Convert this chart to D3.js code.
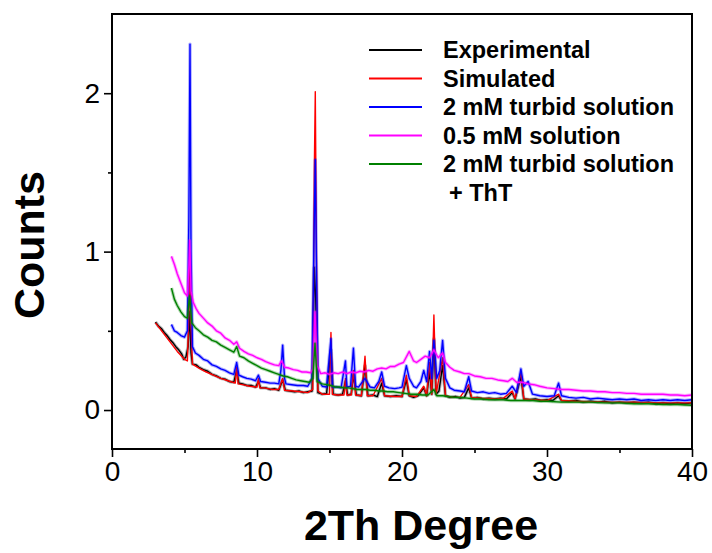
<!DOCTYPE html>
<html><head><meta charset="utf-8">
<script src="https://cdn.jsdelivr.net/npm/d3@7/dist/d3.min.js"></script>
<style>body{margin:0;background:#fff}svg{display:block}text{font-family:"Liberation Sans",Arial,sans-serif}</style>
</head><body><svg id="c" width="712" height="553"></svg>
<script>
const seriesNames = ["Experimental","Simulated","2 mM turbid solution","0.5 mM solution","2 mM turbid solution"];
const seriesColors = ["#000000","#ff0000","#0000ff","#ff00ff","#008000"];
const xTicks = [0,10,20,30,40];
const yTicks = [0,1,2];

const experimental = [[3.0,.555],[3.2,.53],[3.4,.515],[3.6,.49],[3.8,.47],[4.0,.445],[4.2,.425],[4.4,.4],[4.6,.38],[4.8,.355],[4.95,.32],[5.1,.335],[5.25,.4],[5.35,.62],[5.45,.36],[5.55,.29],[5.8,.285],[6.0,.27],[6.3,.255],[6.6,.245],[6.9,.225],[7.2,.215],[7.5,.2],[7.8,.195],[8.1,.18],[8.4,.175],[8.6,.25],[8.75,.17],[9.0,.165],[9.3,.155],[9.6,.155],[9.9,.145],[10.1,.18],[10.25,.14],[10.6,.14],[10.9,.13],[11.2,.135],[11.5,.125],[11.77,.19],[11.95,.125],[12.3,.12],[12.6,.115],[12.9,.12],[13.2,.11],[13.5,.115],[13.8,.12],[13.95,.9],[14.05,.7],[14.2,.11],[14.5,.1],[14.8,.105],[15.1,.38],[15.25,.1],[15.6,.095],[15.9,.1],[16.1,.18],[16.25,.095],[16.5,.1],[16.65,.22],[16.85,.095],[17.2,.09],[17.45,.28],[17.65,.09],[18.0,.095],[18.3,.085],[18.6,.17],[18.8,.09],[19.2,.085],[19.6,.09],[20.0,.085],[20.3,.19],[20.5,.09],[20.8,.08],[21.1,.09],[21.5,.14],[21.7,.09],[21.9,.24],[22.05,.1],[22.2,.45],[22.35,.1],[22.55,.12],[22.8,.28],[23.0,.09],[23.3,.08],[23.7,.085],[24.0,.075],[24.3,.08],[24.6,.14],[24.8,.075],[25.2,.08],[25.6,.07],[26.0,.075],[26.4,.07],[26.8,.075],[27.2,.07],[27.6,.11],[27.8,.07],[28.2,.21],[28.4,.07],[28.8,.065],[29.2,.07],[29.6,.06],[30.0,.065],[30.4,.06],[30.8,.09],[31.0,.06],[31.5,.055],[32.0,.06],[32.5,.05],[33.0,.055],[33.5,.05],[34.0,.055],[34.5,.045],[35.0,.05],[35.5,.045],[36.0,.05],[36.5,.045],[37.0,.05],[37.5,.04],[38.0,.045],[38.5,.04],[39.0,.045],[39.5,.04],[40.0,.045]];

const simulated = [[3.0,.55],[3.5,.49],[4.0,.43],[4.5,.37],[5.0,.32],[5.2,.31],[5.3,.6],[5.36,1.0],[5.42,.6],[5.55,.29],[6.0,.265],[6.5,.24],[7.0,.22],[7.5,.2],[8.0,.185],[8.5,.17],[8.6,.27],[8.7,.165],[9.0,.16],[9.5,.15],[10.0,.145],[10.1,.2],[10.2,.14],[10.5,.14],[11.0,.13],[11.5,.13],[11.77,.2],[11.9,.125],[12.5,.12],[13.0,.115],[13.5,.11],[13.85,.13],[13.95,1.5],[14.02,2.01],[14.1,1.0],[14.2,.12],[14.5,.1],[15.0,.1],[15.1,.49],[15.2,.1],[15.5,.095],[16.0,.095],[16.1,.2],[16.2,.095],[16.5,.095],[16.65,.25],[16.8,.095],[17.2,.09],[17.45,.34],[17.6,.09],[18.0,.09],[18.6,.2],[18.8,.09],[19.5,.085],[20.0,.085],[20.3,.22],[20.5,.09],[21.0,.085],[21.5,.15],[21.7,.09],[21.9,.3],[22.05,.1],[22.2,.6],[22.35,.1],[22.8,.33],[23.0,.09],[23.5,.08],[24.0,.08],[24.6,.16],[24.8,.08],[25.5,.075],[26.5,.07],[27.0,.075],[27.6,.12],[27.8,.07],[28.2,.24],[28.4,.07],[29.0,.065],[30.0,.06],[30.8,.1],[31.0,.06],[32.0,.055],[34.0,.05],[36.0,.05],[38.0,.045],[40.0,.045]];

const turbid = [[4.1,.54],[4.3,.5],[4.5,.49],[4.75,.47],[5.0,.46],[5.2,.5],[5.3,1.2],[5.38,2.31],[5.45,1.0],[5.55,.4],[5.75,.36],[6.0,.345],[6.3,.32],[6.6,.31],[6.9,.285],[7.2,.275],[7.5,.26],[7.8,.25],[8.1,.235],[8.4,.225],[8.6,.3],[8.75,.22],[9.0,.21],[9.3,.2],[9.6,.195],[9.9,.185],[10.1,.22],[10.25,.18],[10.6,.175],[10.9,.17],[11.2,.17],[11.5,.165],[11.65,.25],[11.77,.41],[11.9,.2],[12.0,.165],[12.4,.16],[12.8,.155],[13.2,.155],[13.5,.15],[13.8,.2],[13.95,1.2],[14.02,1.58],[14.1,.9],[14.2,.2],[14.5,.15],[14.8,.145],[15.1,.45],[15.2,.145],[15.5,.145],[15.8,.14],[16.1,.31],[16.2,.145],[16.45,.15],[16.65,.39],[16.8,.15],[17.0,.145],[17.45,.2],[17.8,.145],[18.1,.14],[18.4,.18],[18.6,.24],[18.8,.15],[19.1,.14],[19.5,.135],[19.8,.14],[20.0,.145],[20.3,.28],[20.5,.2],[20.8,.15],[21.0,.14],[21.3,.18],[21.5,.25],[21.7,.18],[21.9,.37],[22.05,.2],[22.2,.44],[22.4,.2],[22.6,.25],[22.8,.44],[23.0,.2],[23.3,.14],[23.6,.125],[24.0,.12],[24.3,.115],[24.6,.21],[24.8,.12],[25.2,.11],[25.6,.115],[26.0,.105],[26.4,.11],[26.8,.1],[27.2,.105],[27.6,.15],[27.9,.11],[28.2,.26],[28.4,.15],[28.7,.18],[29.0,.1],[29.5,.09],[30.0,.085],[30.5,.09],[30.8,.17],[31.0,.09],[31.5,.08],[32.0,.075],[32.5,.08],[33.0,.07],[33.5,.075],[34.0,.07],[34.5,.065],[35.0,.07],[35.5,.065],[36.0,.07],[36.5,.06],[37.0,.065],[37.5,.06],[38.0,.065],[38.5,.06],[39.0,.065],[39.5,.06],[40.0,.065]];

const dilute = [[4.1,.97],[4.3,.92],[4.5,.86],[4.75,.8],[5.0,.74],[5.2,.72],[5.3,.9],[5.36,1.07],[5.45,.75],[5.6,.68],[5.8,.64],[6.0,.61],[6.3,.58],[6.6,.55],[6.9,.53],[7.2,.5],[7.5,.485],[7.8,.455],[8.1,.44],[8.4,.415],[8.6,.43],[8.8,.39],[9.1,.37],[9.4,.355],[9.7,.345],[10.0,.33],[10.3,.32],[10.6,.305],[10.9,.295],[11.2,.285],[11.5,.28],[11.7,.31],[11.9,.27],[12.2,.265],[12.5,.255],[12.8,.25],[13.1,.24],[13.4,.24],[13.7,.235],[13.85,.26],[14.0,.62],[14.15,.28],[14.4,.23],[14.7,.235],[15.0,.225],[15.3,.235],[15.6,.23],[15.9,.24],[16.2,.23],[16.5,.24],[16.8,.235],[17.1,.245],[17.4,.24],[17.7,.25],[18.0,.245],[18.3,.26],[18.6,.265],[18.9,.26],[19.2,.275],[19.5,.275],[19.8,.29],[20.1,.3],[20.5,.37],[20.8,.31],[21.0,.3],[21.3,.32],[21.6,.34],[21.9,.33],[22.2,.38],[22.5,.33],[22.8,.36],[23.0,.3],[23.3,.27],[23.6,.25],[24.0,.24],[24.3,.23],[24.6,.23],[25.0,.215],[25.4,.21],[25.8,.2],[26.2,.2],[26.6,.19],[27.0,.185],[27.3,.18],[27.6,.2],[27.9,.175],[28.3,.175],[28.7,.165],[29.1,.16],[29.5,.15],[30.0,.14],[30.5,.135],[31.0,.13],[31.5,.13],[32.0,.125],[32.5,.12],[33.0,.12],[33.5,.115],[34.0,.115],[34.5,.11],[35.0,.11],[35.5,.105],[36.0,.105],[36.5,.1],[37.0,.1],[37.5,.1],[38.0,.1],[38.5,.095],[39.0,.095],[39.5,.09],[40.0,.095]];

const tht = [[4.1,.77],[4.3,.7],[4.5,.66],[4.75,.62],[5.0,.59],[5.2,.58],[5.35,.72],[5.5,.55],[5.75,.52],[6.0,.5],[6.3,.475],[6.6,.46],[6.9,.44],[7.2,.43],[7.5,.41],[7.8,.395],[8.1,.38],[8.4,.365],[8.6,.4],[8.8,.34],[9.1,.33],[9.4,.31],[9.7,.295],[10.0,.28],[10.3,.265],[10.6,.255],[10.9,.245],[11.2,.235],[11.5,.225],[11.8,.215],[12.1,.21],[12.4,.2],[12.7,.19],[13.0,.185],[13.3,.18],[13.6,.175],[13.85,.2],[14.0,.42],[14.15,.18],[14.5,.165],[14.8,.16],[15.1,.155],[15.4,.145],[15.7,.145],[16.0,.14],[16.3,.14],[16.6,.135],[16.9,.13],[17.2,.13],[17.5,.13],[17.8,.125],[18.1,.125],[18.4,.12],[18.7,.12],[19.0,.115],[19.4,.115],[19.8,.11],[20.2,.105],[20.6,.1],[21.0,.1],[21.4,.095],[21.8,.095],[22.2,.13],[22.4,.09],[22.8,.09],[23.2,.085],[23.6,.08],[24.0,.08],[24.5,.075],[25.0,.07],[25.5,.07],[26.0,.065],[26.5,.065],[27.0,.065],[27.5,.06],[28.0,.06],[28.5,.06],[29.0,.06],[29.5,.055],[30.0,.055],[31.0,.05],[32.0,.05],[33.0,.05],[34.0,.045],[35.0,.045],[36.0,.04],[37.0,.04],[38.0,.035],[39.0,.035],[40.0,.03]];

const seriesData = [experimental, simulated, turbid, dilute, tht];

const svg = d3.select("#c");
const m = {l:112, r:692, t:14, b:449};
const x = d3.scaleLinear().domain([0,40]).range([m.l, m.r]);
const y = d3.scaleLinear().domain([-0.246,2.5]).range([m.b, m.t]);

svg.append("defs").append("clipPath").attr("id","clip")
  .append("rect").attr("x",m.l).attr("y",m.t).attr("width",m.r-m.l).attr("height",m.b-m.t);

const line = d3.line().x(d=>x(d[0])).y(d=>y(d[1]));
const g = svg.append("g").attr("clip-path","url(#clip)");
seriesData.forEach((s,i)=>{
  if(i!==1){
    g.append("path").attr("d",line(s)).attr("fill","none")
      .attr("stroke",seriesColors[i]).attr("stroke-opacity",0.3).attr("stroke-width",3.4).attr("stroke-linejoin","round");
  }
  g.append("path").attr("d",line(s)).attr("fill","none")
    .attr("stroke",seriesColors[i]).attr("stroke-width",1.4).attr("stroke-linejoin","round");
});

// axes
const xAxis = d3.axisBottom(x).tickValues(xTicks).tickSize(8).tickFormat(d3.format("d"));
const xMinor = d3.axisBottom(x).tickValues([5,15,25,35]).tickSize(4).tickFormat("");
const yAxis = d3.axisLeft(y).tickValues(yTicks).tickSize(8).tickFormat(d3.format("d"));
const yMinor = d3.axisLeft(y).tickValues([0.5,1.5]).tickSize(4).tickFormat("");

function styleAxis(sel){
  sel.select(".domain").remove();
  sel.selectAll(".tick line").attr("stroke","#000").attr("stroke-width",1.6);
  sel.selectAll(".tick text").attr("font-size",28).attr("fill","#000").attr("font-family","Liberation Sans, Arial, sans-serif");
}
const gx = svg.append("g").attr("transform",`translate(0,${m.b})`).call(xAxis); styleAxis(gx);
gx.selectAll(".tick text").attr("dy",null).attr("y",32);
const gxm = svg.append("g").attr("transform",`translate(0,${m.b})`).call(xMinor); styleAxis(gxm);
const gy = svg.append("g").attr("transform",`translate(${m.l},0)`).call(yAxis); styleAxis(gy);
gy.selectAll(".tick text").attr("x",-12);
const gym = svg.append("g").attr("transform",`translate(${m.l},0)`).call(yMinor); styleAxis(gym);

svg.append("rect").attr("x",m.l).attr("y",m.t).attr("width",m.r-m.l).attr("height",m.b-m.t)
  .attr("fill","none").attr("stroke","#000").attr("stroke-width",2);

// titles
svg.append("text").attr("x",421).attr("y",540).attr("text-anchor","middle")
  .attr("font-size",43).attr("font-weight","bold").text("2Th Degree");
svg.append("text").attr("transform","translate(44,245) rotate(-90)").attr("text-anchor","middle")
  .attr("font-size",43).attr("font-weight","bold").text("Counts");

// legend
const legY = d3.scaleLinear().domain([0,1]).range([50,78.5]);
const leg = svg.append("g");
seriesNames.forEach((n,i)=>{
  leg.append("line").attr("x1",369).attr("x2",422).attr("y1",legY(i)).attr("y2",legY(i))
    .attr("stroke",seriesColors[i]).attr("stroke-width",2);
  leg.append("text").attr("x",443).attr("y",legY(i)+8).attr("font-size",23.5).attr("font-weight","bold").text(n);
});
leg.append("text").attr("x",449).attr("y",legY(5)+8).attr("font-size",23.5).attr("font-weight","bold").text("+ ThT");
</script></body></html>
